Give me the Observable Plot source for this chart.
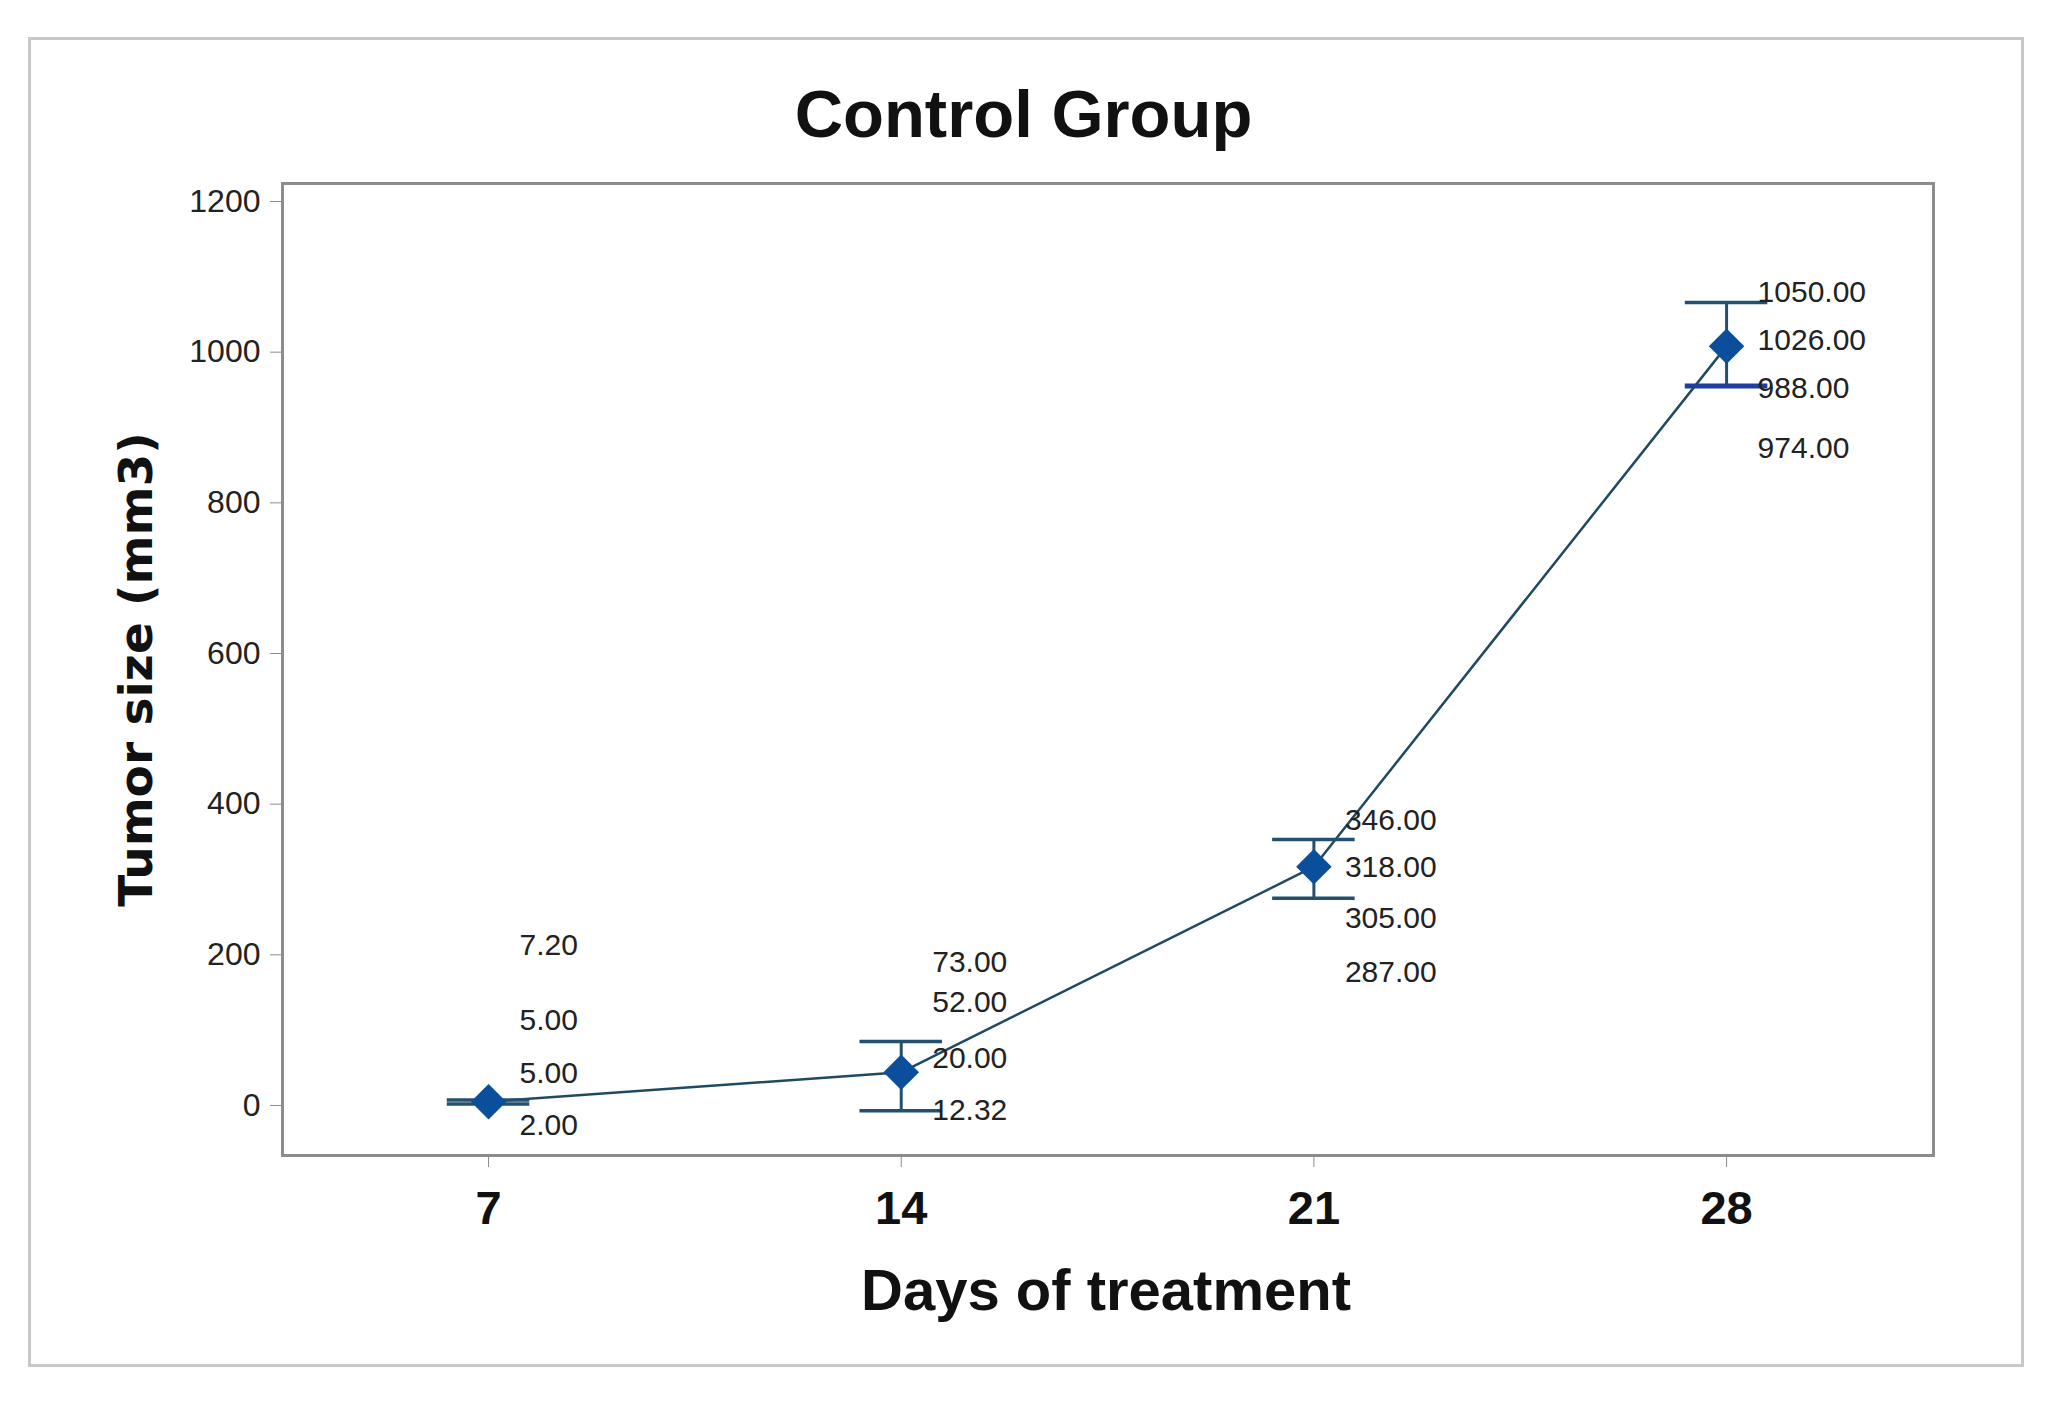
<!DOCTYPE html>
<html>
<head>
<meta charset="utf-8">
<script src="https://cdn.jsdelivr.net/npm/d3@7"></script>
<script src="https://cdn.jsdelivr.net/npm/@observablehq/plot@0.6"></script>
<style>
  html, body { margin: 0; padding: 0; background: #fff; }
  #page { position: relative; width: 2053px; height: 1406px; overflow: hidden; background: #fff; }
  #border { position: absolute; left: 28px; top: 37px; width: 1996px; height: 1330px;
            box-sizing: border-box; border: 3px solid #c8c8c8; z-index: 2; pointer-events: none; }
  #title { position: absolute; left: 0; top: 80px; width: 2047px; text-align: center;
           font-family: "Liberation Sans", Arial, sans-serif; font-weight: bold;
           font-size: 67px; line-height: 67px; color: #111; z-index: 1; }
  #chart { position: absolute; left: 0; top: 160px; z-index: 1; }
</style>
</head>
<body>
<div id="page">
  <div id="chart"></div>
  <div id="title">Control Group</div>
  <div id="border"></div>
</div>
<script>
// ---- data ----
const days = [7, 14, 21, 28];
const means = [5, 44, 317, 1008];
const lowers = [2, -7, 275, 955];
const uppers = [7.2, 85, 353, 1066];

const labelDays = [7, 7, 7, 7, 14, 14, 14, 14, 21, 21, 21, 21, 28, 28, 28, 28];
const labelTexts = ["7.20", "5.00", "5.00", "2.00",
                    "73.00", "52.00", "20.00", "12.32",
                    "346.00", "318.00", "305.00", "287.00",
                    "1050.00", "1026.00", "988.00", "974.00"];
const labelValues = [212, 113, 42, -27,
                     190, 137, 62, -7,
                     378, 316, 248, 177,
                     1079, 1016, 952, 872];

const xTicks = [7, 14, 21, 28];
const yTicks = [0, 200, 400, 600, 800, 1000, 1200];

// ---- tables built from the arrays ----
const points = days.map((d, i) => ({day: d, mean: means[i], lo: lowers[i], hi: uppers[i]}));
const caps = points.flatMap(p => [
  {day: p.day, v: p.hi, which: "hi"},
  {day: p.day, v: p.lo, which: "lo"}
]);
const labels = labelTexts.map((t, i) => ({day: labelDays[i], text: t, v: labelValues[i]}));

const capHalf = 0.7;          // half width of the error-bar caps, in days
const highlightDay = 28;      // the selected (blue) cap in the original
const barColor = "#23506e";
const lineColor = "#1f4a62";
const dotColor = "#0b4f9c";

const chart = Plot.plot({
  width: 2053,
  height: 1246,
  marginTop: 23,
  marginBottom: 251,
  marginLeft: 282,
  marginRight: 120,
  style: {fontFamily: "'Liberation Sans', Arial, sans-serif", background: "transparent", overflow: "visible"},
  x: {domain: [3.505, 31.51]},
  y: {domain: [-66.4, 1223.9]},
  marks: [
    Plot.frame({stroke: "#8c8c8c", strokeWidth: 3}),
    Plot.axisY({ticks: yTicks, tickSize: 12, tickPadding: 10, fontSize: 32,
                tickFormat: d3.format("d"), stroke: "#8c8c8c", fill: "#222", label: null}),
    Plot.axisX({ticks: xTicks, tickSize: 12, tickPadding: 23, fontSize: 47, fontWeight: "bold",
                tickFormat: d3.format("d"), stroke: "#8c8c8c", fill: "#111", label: null}),
    // connecting line through the means
    Plot.line(points, {x: "day", y: "mean", stroke: lineColor, strokeWidth: 2.5}),
    // error bars
    Plot.ruleX(points, {x: "day", y1: "lo", y2: "hi", stroke: barColor, strokeWidth: 3}),
    Plot.ruleY(caps, {
      y: "v",
      x1: d => d.day - capHalf,
      x2: d => d.day + capHalf,
      stroke: d => (d.day === highlightDay && d.which === "lo") ? "#1c3fa0" : barColor,
      strokeWidth: d => (d.day === highlightDay && d.which === "lo") ? 5 : 3.5
    }),
    // means as diamonds
    Plot.dot(points, {x: "day", y: "mean", symbol: "diamond2", r: 16, fill: dotColor, stroke: "none"}),
    // value labels
    Plot.text(labels, {x: "day", y: "v", text: "text", dx: 31, textAnchor: "start",
                       fontSize: 30, fill: "#222"}),
    // axis titles
    Plot.text(["Days of treatment"], {frameAnchor: "bottom", dy: 136, dx: -2, lineAnchor: "middle",
                       textAnchor: "middle", fontSize: 58, fontWeight: "bold", fill: "#111"}),
    Plot.text(["Tumor size (mm3)"], {frameAnchor: "left", dx: -146, rotate: -90, lineAnchor: "middle",
                       textAnchor: "middle", fontSize: 47, fontWeight: "bold", fill: "#111",
                       fontFamily: "'DejaVu Sans', sans-serif"})
  ]
});
document.getElementById("chart").appendChild(chart);
</script>
</body>
</html>
